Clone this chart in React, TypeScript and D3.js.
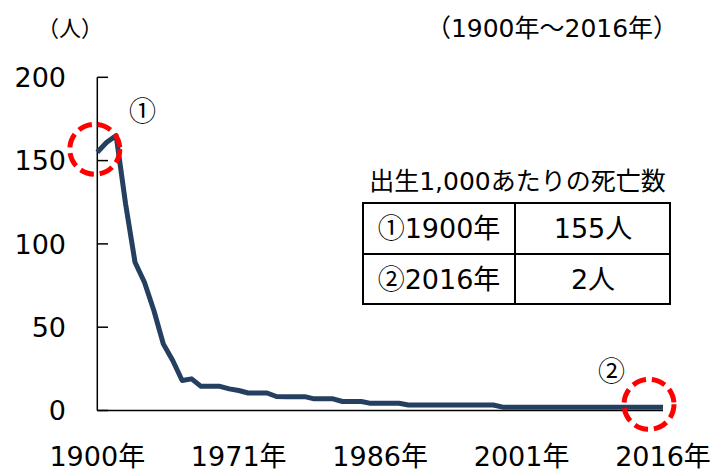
import React from "react";
import * as d3 from "d3";

const categories: string[] = [
  "1900", "1910", "1920", "1930", "1940", "1947", "1950", "1955", "1960", "1965",
  "1966", "1967", "1968", "1969", "1970", "1971", "1972", "1973", "1974", "1975",
  "1976", "1977", "1978", "1979", "1980", "1981", "1982", "1983", "1984", "1985",
  "1986", "1987", "1988", "1989", "1990", "1991", "1992", "1993", "1994", "1995",
  "1996", "1997", "1998", "1999", "2000", "2001", "2002", "2003", "2004", "2005",
  "2006", "2007", "2008", "2009", "2010", "2011", "2012", "2013", "2014", "2015",
  "2016",
];

const deaths: number[] = [
  155, 161, 165, 124, 89, 77, 60, 40, 30, 18,
  19, 14.5, 14.5, 14.5, 13, 12, 10.5, 10.5, 10.5, 8.4,
  8.3, 8.3, 8.3, 7, 7, 7, 5.4, 5.4, 5.4, 4.3,
  4.3, 4.3, 4.3, 3.3, 3.3, 3.3, 3.3, 3.3, 3.3, 3.3,
  3.3, 3.3, 3.3, 2, 2, 2, 2, 2, 2, 2,
  2, 2, 2, 2, 2, 2, 2, 2, 2, 1.9,
  1.9,
];

const xTickLabels: string[] = ["1900", "1971", "1986", "2001", "2016"];
const yTicks: number[] = [0, 50, 100, 150, 200];

const tableTitle = "出生1,000あたりの死亡数";
const tableRows: [string, string, string][] = [
  ["①", "1900年", "155人"],
  ["②", "2016年", "2人"],
];

const FONT = '"DejaVu Sans", "Noto Sans CJK JP", sans-serif';
const CJK = '"Noto Sans CJK JP", sans-serif';

export default function App() {
  const x = d3.scalePoint<string>().domain(categories).range([97.3, 663]);
  const y = d3.scaleLinear().domain([0, 200]).range([410.5, 77.3]);

  const line = d3
    .line<number>()
    .x((_, i) => x(categories[i]) as number)
    .y((d) => y(d));

  const first = categories[0];
  const last = categories[categories.length - 1];

  const tx0 = 363, tx1 = 515, tx2 = 670;
  const ty0 = 203, ty1 = 254, ty2 = 304;

  return (
    <svg
      width={710}
      height={471}
      style={{ position: "absolute", left: 0, top: 0, background: "#fff" }}
      fontFamily={FONT}
    >
      <rect width={710} height={471} fill="#fff" />
      {/* unit labels */}
      <text x={70} y={28} dy="0.36em" fontSize={22} textAnchor="middle">（人）</text>
      <text x={552} y={28} dy="0.36em" fontSize={25} textAnchor="middle">（1900年～2016年）</text>

      {/* y axis */}
      <line x1={97.3} x2={97.3} y1={y(200)} y2={y(0)} stroke="#000" strokeWidth={1.5} />
      {yTicks.map((t) => (
        <g key={t}>
          <line x1={97.3} x2={108} y1={y(t)} y2={y(t)} stroke="#000" strokeWidth={1.5} />
          <text x={66} y={y(t)} dy="0.36em" fontSize={27} textAnchor="end">{t}</text>
        </g>
      ))}

      {/* x axis */}
      <line x1={97.3} x2={x(last) as number} y1={y(0)} y2={y(0)} stroke="#000" strokeWidth={1.5} />
      {xTickLabels.map((c) => (
        <text key={c} x={x(c) as number} y={466} fontSize={27} textAnchor="middle">{c}年</text>
      ))}

      {/* series */}
      <path d={line(deaths) || ""} fill="none" stroke="#243f60" strokeWidth={5} strokeLinejoin="round" />

      {/* highlight circles */}
      <circle cx={(x(first) as number) - 2.5} cy={y(deaths[0]) - 3} r={25} fill="none" stroke="#ff0000" strokeWidth={5} strokeDasharray="14 6" />
      <circle cx={(x(last) as number) - 14} cy={y(deaths[deaths.length - 1]) - 3} r={25} fill="none" stroke="#ff0000" strokeWidth={5} strokeDasharray="14 6" />
      <text x={142.5} y={111} dy="0.36em" fontSize={27} textAnchor="middle" fontFamily={CJK}>①</text>
      <text x={611.5} y={371} dy="0.36em" fontSize={27} textAnchor="middle" fontFamily={CJK}>②</text>

      {/* table */}
      <text x={(tx0 + tx2) / 2 + 1} y={181} dy="0.36em" fontSize={25} textAnchor="middle">{tableTitle}</text>
      <rect x={tx0} y={ty0} width={tx2 - tx0} height={ty2 - ty0} fill="#fff" stroke="#000" strokeWidth={2} />
      <line x1={tx0} x2={tx2} y1={ty1} y2={ty1} stroke="#000" strokeWidth={2} />
      <line x1={tx1} x2={tx1} y1={ty0} y2={ty2} stroke="#000" strokeWidth={2} />
      {tableRows.map((r, i) => {
        const cy = i === 0 ? (ty0 + ty1) / 2 : (ty1 + ty2) / 2;
        return (
          <g key={r[1]}>
            <text x={439} y={cy} dy="0.36em" fontSize={27} textAnchor="middle">
              <tspan fontFamily={CJK}>{r[0]}</tspan>
              <tspan>{r[1]}</tspan>
            </text>
            <text x={593} y={cy} dy="0.36em" fontSize={27} textAnchor="middle">{r[2]}</text>
          </g>
        );
      })}
    </svg>
  );
}
